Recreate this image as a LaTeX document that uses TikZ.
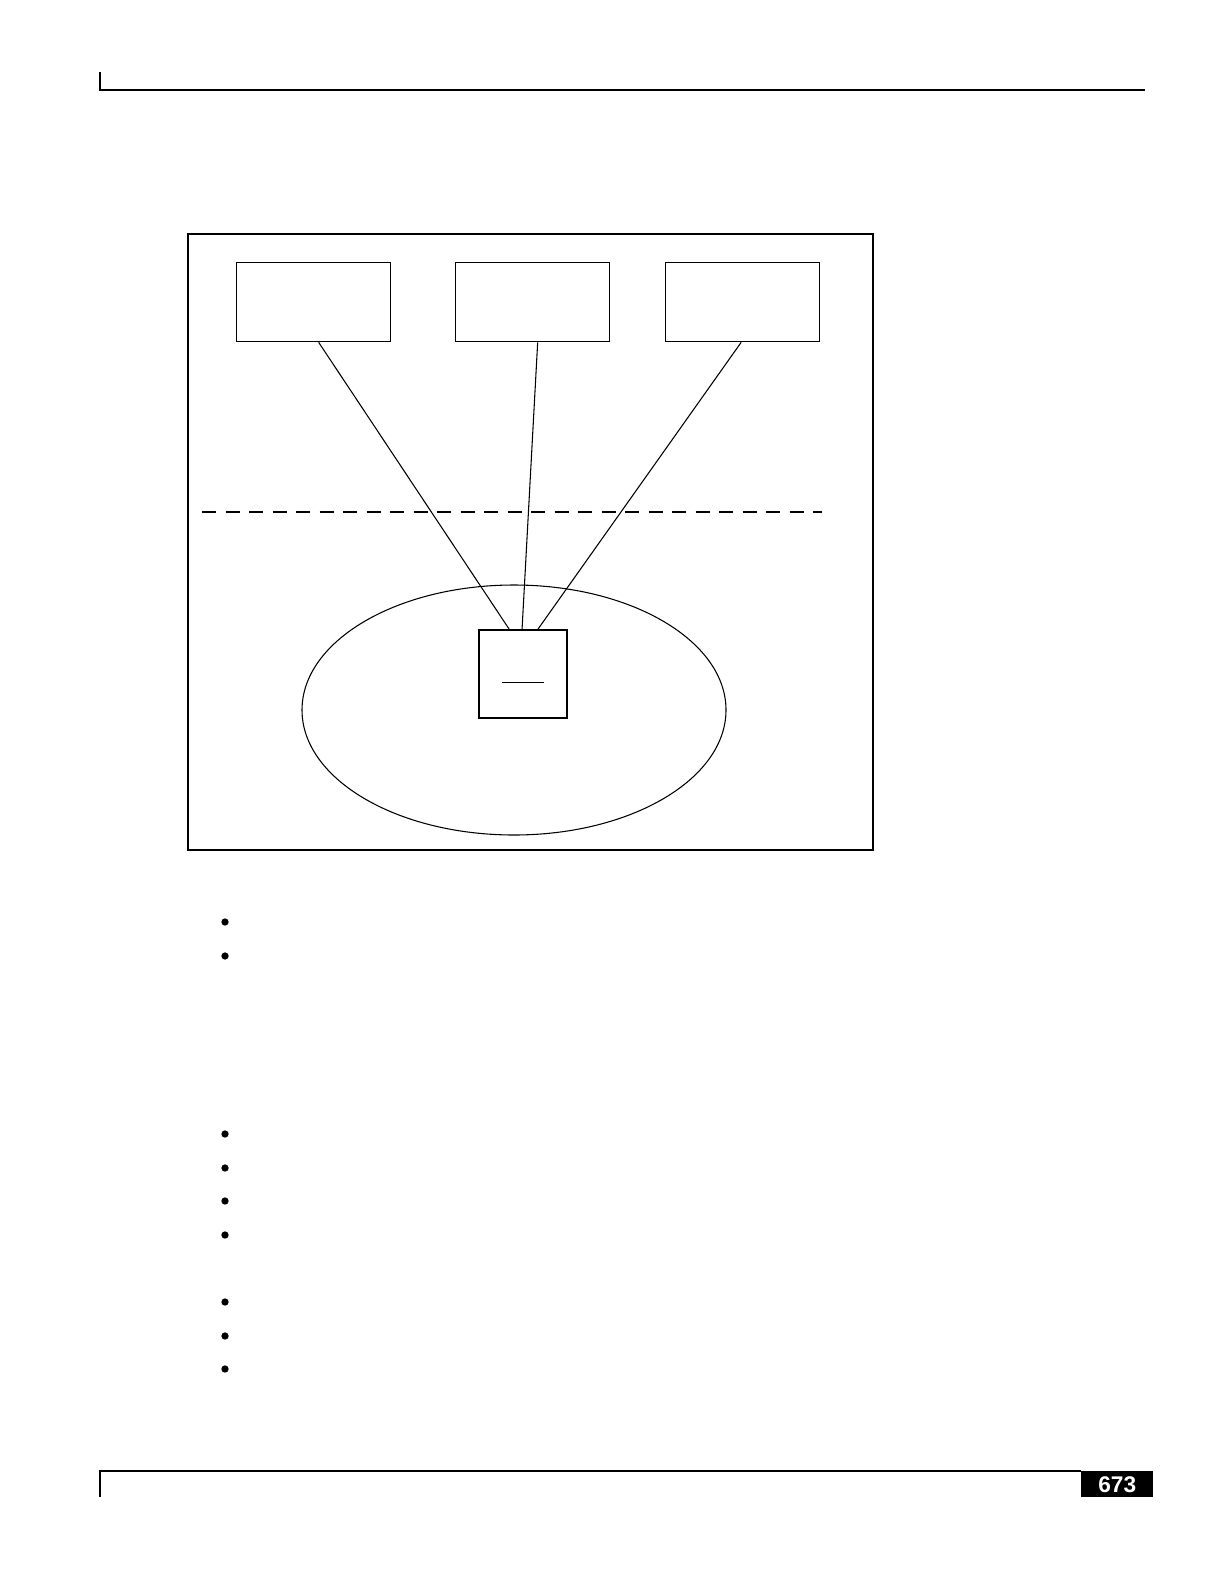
\documentclass[tikz,border=0pt]{standalone}
\usepackage{fontspec}
\setmainfont{Liberation Sans}
\usetikzlibrary{calc,shapes.geometric}
\begin{document}
\begin{tikzpicture}[x=0.75pt,y=-0.75pt,
  topbox/.style={draw,line width=1pt,minimum width=154*0.75pt,minimum height=79*0.75pt,inner sep=0pt,anchor=north west},
  hostbox/.style={draw,line width=1.6pt,minimum width=88*0.75pt,minimum height=88*0.75pt,inner sep=0pt,anchor=north west},
  link/.style={line width=0.8pt},
  rule/.style={line width=1.5pt},
  thinrule/.style={line width=0.8pt},
  bulletdot/.style={circle,fill=black,inner sep=0pt,minimum size=5.5pt}]
\useasboundingbox (0,0) rectangle (1224,1584);
% header
\coordinate (h1) at (100,72);
\coordinate (h2) at (100,90);
\coordinate (h3) at (1145,90);
\draw[rule] (h1) -- (h2) -- (h3);
% footer
\coordinate (f1) at (100,1497);
\coordinate (f2) at (100,1471);
\coordinate (f3) at (1081,1471);
\draw[thinrule] (f1) -- (f2) -- (f3);
\node[fill=black,text=white,font=\bfseries\fontsize{17}{19}\selectfont,minimum width=72*0.75pt,minimum height=26*0.75pt,inner sep=0pt,anchor=north west] (pg) at (1081,1471) {673};
% frame
\node[draw,line width=1.5pt,minimum width=685*0.75pt,minimum height=616*0.75pt,inner sep=0pt,anchor=north west] (frame) at (187,233) {};
% top boxes
\node[topbox] (b1) at (236,262) {};
\node[topbox] (b2) at (455,262) {};
\node[topbox] (b3) at (665,262) {};
% dashed line
\coordinate (d1) at (202,512);
\coordinate (d2) at (822,512);
\draw[line width=1.5pt,dash pattern=on 14*0.75pt off 9.5*0.75pt] (d1) -- (d2);
% ellipse
\node[draw,ellipse,line width=0.8pt,minimum width=424*0.75pt,minimum height=250*0.75pt,inner sep=0pt] (ell) at (514,710) {};
% host box
\node[hostbox] (hb) at (478,629) {};
\coordinate (u1) at ($(hb.north)+(-14,0)$);
\coordinate (u2) at ($(hb.north)+(-1,0)$);
\coordinate (u3) at ($(hb.north)+(15,0)$);
\coordinate (ul1) at ($(hb.center)+(-21,8)$);
\coordinate (ul2) at ($(hb.center)+(21,8)$);
\draw[link] (ul1) -- (ul2);
% connectors
\draw[link] ($(b1.south)+(5,0)$) -- (u1);
\draw[link] ($(b2.south)+(5,0)$) -- (u2);
\draw[link] ($(b3.south)+(-1.5,0)$) -- (u3);
% bullets
\foreach \i/\yy in {1/922,2/956,3/1134,4/1168,5/1201,6/1235,7/1302,8/1336,9/1369}
  \node[bulletdot] (bul\i) at (225,\yy) {};
\end{tikzpicture}
\end{document}
